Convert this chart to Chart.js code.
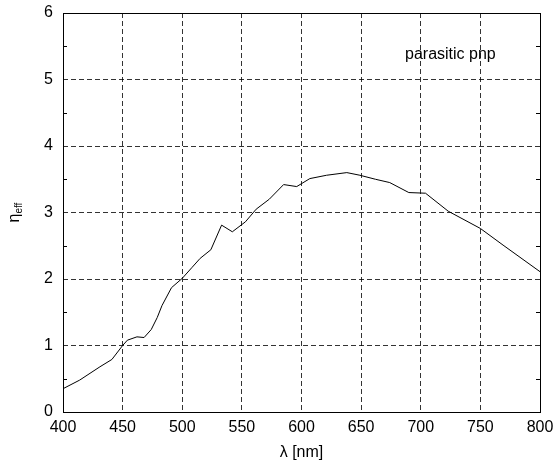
<!DOCTYPE html>
<html>
<head>
<meta charset="utf-8">
<script src="https://cdn.jsdelivr.net/npm/chart.js@4/dist/chart.umd.min.js"></script>
<style>
  html, body { margin: 0; padding: 0; background: #fff; }
  #wrap { width: 554px; height: 462px; }
</style>
</head>
<body>
<div id="wrap"><canvas id="effChart" width="554" height="462"></canvas></div>
<script>
// wavelength in nm
const wavelength = [400, 414, 431, 441, 450, 454, 462, 468, 474, 479, 483, 491, 500, 508, 515, 524, 533, 542, 553, 562,
                    573, 585, 596, 607, 621, 638, 649, 662, 674, 690, 704, 723, 750, 769, 800];
// effective efficiency
const etaEff = [0.35, 0.48, 0.68, 0.79, 1.00, 1.08, 1.13, 1.12, 1.24, 1.42, 1.60, 1.87, 2.01, 2.17, 2.31, 2.44, 2.81, 2.71, 2.86, 3.05,
                3.20, 3.42, 3.39, 3.51, 3.56, 3.60, 3.56, 3.50, 3.45, 3.30, 3.29, 3.02, 2.76, 2.51, 2.11];
const xTicks = [400, 450, 500, 550, 600, 650, 700, 750, 800];
const yTicks = [0, 1, 2, 3, 4, 5, 6];
const yMinor = [0.5, 1.5, 2.5, 3.5, 4.5, 5.5];
const seriesLabel = 'parasitic pnp';

const FONT = 'Arial, "Liberation Sans", sans-serif';
const GRID = 'rgba(0,0,0,0.8)';

// frame, minor ticks, y title and the series label
const framePlugin = {
    id: 'frame',
    afterDraw(chart) {
        const ctx = chart.ctx;
        const a = chart.chartArea;
        const ys = chart.scales.y;
        ctx.save();
        ctx.strokeStyle = '#000';
        ctx.lineWidth = 1;
        ctx.setLineDash([]);
        ctx.strokeRect(Math.round(a.left) + 0.5, Math.round(a.top) + 0.5,
                       Math.round(a.right - a.left), Math.round(a.bottom - a.top));
        ctx.beginPath();
        yMinor.forEach(v => {
            const py = Math.round(ys.getPixelForValue(v)) + 0.5;
            ctx.moveTo(a.left, py); ctx.lineTo(a.left + 4, py);
            ctx.moveTo(a.right - 4, py); ctx.lineTo(a.right, py);
        });
        ctx.stroke();

        ctx.fillStyle = '#000';
        ctx.font = '16px ' + FONT;
        ctx.textBaseline = 'alphabetic';
        ctx.fillText(seriesLabel, a.right - 135, a.top + 46);

        // y axis title: eta with subscript eff
        ctx.translate(19, (a.top + a.bottom) / 2 + 10);
        ctx.rotate(-Math.PI / 2);
        ctx.font = '16px ' + FONT;
        ctx.fillText('η', 0, 0);
        const w = ctx.measureText('η').width;
        ctx.font = '10px ' + FONT;
        ctx.fillText('eff', w, 3);
        ctx.restore();
    }
};

new Chart(document.getElementById('effChart').getContext('2d'), {
    type: 'line',
    data: {
        datasets: [{
            label: seriesLabel,
            data: wavelength.map((x, i) => ({ x: x, y: etaEff[i] })),
            borderColor: '#000',
            borderWidth: 1,
            pointRadius: 0,
            tension: 0,
            fill: false
        }]
    },
    options: {
        responsive: false,
        animation: false,
        layout: { padding: { left: 0, right: 14, top: 13, bottom: 0 } },
        plugins: { legend: { display: false }, tooltip: { enabled: false } },
        scales: {
            x: {
                type: 'linear',
                min: 400, max: 800,
                afterBuildTicks: s => { s.ticks = xTicks.map(v => ({ value: v })); },
                afterFit: s => { s.height = 50; s.paddingLeft = 0; s.paddingRight = 0; },
                border: { display: false, dash: [5, 3] },
                grid: { color: GRID, lineWidth: 1, drawTicks: false },
                ticks: { color: '#000', font: { family: FONT, size: 16 }, padding: 6, maxRotation: 0 },
                title: { display: true, text: 'λ [nm]', color: '#000', font: { family: FONT, size: 16 }, padding: { top: 2, bottom: 0 } }
            },
            y: {
                min: 0, max: 6,
                afterBuildTicks: s => { s.ticks = yTicks.map(v => ({ value: v })); },
                afterFit: s => { s.width = 63; s.paddingTop = 0; s.paddingBottom = 0; },
                border: { display: false, dash: [5, 3] },
                grid: { color: GRID, lineWidth: 1, drawTicks: false },
                ticks: { color: '#000', font: { family: FONT, size: 16 }, padding: 10 }
            }
        }
    },
    plugins: [framePlugin]
});
</script>
</body>
</html>
